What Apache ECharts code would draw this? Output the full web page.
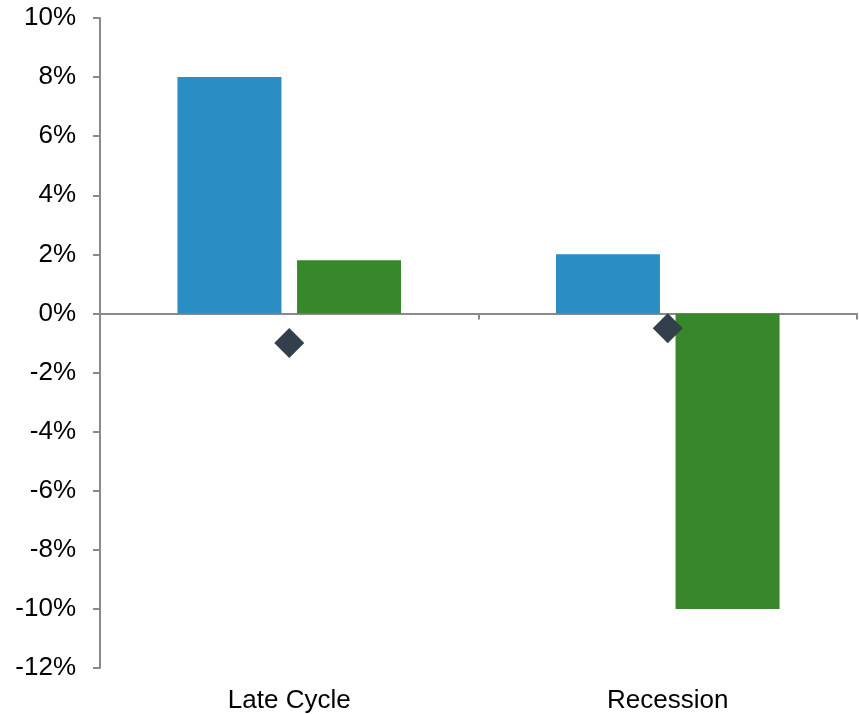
<!DOCTYPE html>
<html>
<head>
<meta charset="utf-8">
<script src="https://cdn.jsdelivr.net/npm/echarts@6/dist/echarts.min.js"></script>
<style>
  html, body { margin: 0; padding: 0; background: #fff; }
  #chart { width: 859px; height: 714px; }
</style>
</head>
<body>
<div id="chart"></div>
<script>
// Category names and series values (percent)
const categories = ['Late Cycle', 'Recession'];
const blueValues = [8, 2];
const greenValues = [1.8, -10];
const markerValues = [-1, -0.5];
const yTicks = { min: -12, max: 10, interval: 2 };

const axisGray = '#8a8a8a';
const font = '"Liberation Sans", Arial, sans-serif';

const chart = echarts.init(document.getElementById('chart'), null, { renderer: 'canvas' });

chart.setOption({
  animation: false,
  backgroundColor: '#ffffff',
  grid: { left: 100, right: 2, top: 18, bottom: 46, containLabel: false },
  xAxis: [
    {
      // axis line drawn through zero with boundary ticks
      type: 'category',
      data: categories,
      axisLine: { onZero: true, lineStyle: { color: axisGray, width: 2 } },
      axisTick: { show: true, length: 6, lineStyle: { color: axisGray, width: 2 } },
      axisLabel: { show: false },
      splitLine: { show: false }
    },
    {
      // category labels along the bottom of the plot
      type: 'category',
      data: categories,
      position: 'bottom',
      axisLine: { show: false, onZero: false },
      axisTick: { show: false },
      axisLabel: { color: '#000', fontFamily: font, fontSize: 26, margin: 20 },
      splitLine: { show: false }
    }
  ],
  yAxis: {
    type: 'value',
    min: yTicks.min,
    max: yTicks.max,
    interval: yTicks.interval,
    axisLine: { show: true, lineStyle: { color: axisGray, width: 2 } },
    axisTick: { show: true, length: 7, lineStyle: { color: axisGray, width: 2 } },
    splitLine: { show: false },
    axisLabel: {
      color: '#000',
      fontFamily: font,
      fontSize: 26,
      margin: 24,
      formatter: v => v + '%'
    }
  },
  series: [
    {
      type: 'bar',
      xAxisIndex: 0,
      data: blueValues,
      barWidth: 104,
      barGap: '15%',
      itemStyle: { color: '#2a8ec4' }
    },
    {
      type: 'bar',
      xAxisIndex: 0,
      data: greenValues,
      barWidth: 104,
      barGap: '15%',
      itemStyle: { color: '#38872b' }
    },
    {
      type: 'scatter',
      xAxisIndex: 0,
      data: markerValues,
      symbol: 'diamond',
      symbolSize: 30,
      itemStyle: { color: '#333f4b', opacity: 1 },
      z: 5
    }
  ]
});
</script>
</body>
</html>
